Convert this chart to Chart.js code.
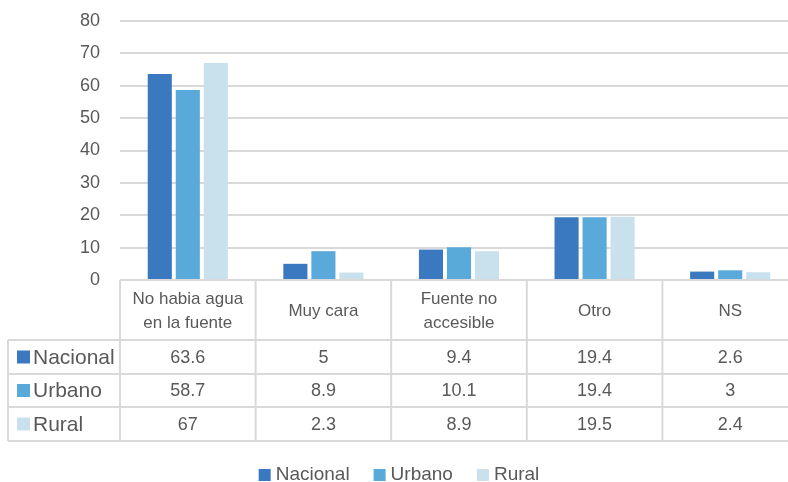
<!DOCTYPE html>
<html>
<head>
<meta charset="utf-8">
<script src="https://cdn.jsdelivr.net/npm/chart.js@4/dist/chart.umd.min.js"></script>
<style>
  html, body { margin: 0; padding: 0; background: #fff; overflow: hidden; }
  #wrap { width: 798px; height: 482px; position: relative; }
</style>
</head>
<body>
<div id="wrap"><canvas id="waterChart"></canvas></div>
<script>
// data
const categories = [['No habia agua', 'en la fuente'], 'Muy cara', ['Fuente no', 'accesible'], 'Otro', 'NS'];
const seriesNames = ['Nacional', 'Urbano', 'Rural'];
const nacional = [63.6, 5, 9.4, 19.4, 2.6];
const urbano = [58.7, 8.9, 10.1, 19.4, 3];
const rural = [67, 2.3, 8.9, 19.5, 2.4];
const yMin = 0, yMax = 80, yStep = 10;

const seriesColors = ['#3a78bf', '#5aa9db', '#c8e1ed'];
const seriesData = [nacional, urbano, rural];
const textColor = '#595959';
const lineColor = '#d9d9d9';
const fontFamily = '"Liberation Sans", Arial, Helvetica, sans-serif';

// draws the data table under the plot and the legend at the bottom
const tableAndLegend = {
  id: 'tableAndLegend',
  afterDraw(chart) {
    const ctx = chart.ctx;
    const area = chart.chartArea;
    const xs = chart.scales.x;
    const n = categories.length;
    const colW = (area.right - area.left) / n;
    const top = area.bottom;
    const rowY = [top, top + 60, top + 94, top + 127, top + 161];
    const tableLeft = 8;

    ctx.save();
    ctx.strokeStyle = lineColor;
    ctx.lineWidth = 2;

    // horizontal lines
    ctx.beginPath();
    ctx.moveTo(area.left, rowY[0]); ctx.lineTo(area.right, rowY[0]);
    for (let r = 1; r < rowY.length; r++) {
      ctx.moveTo(tableLeft, rowY[r]); ctx.lineTo(area.right, rowY[r]);
    }
    // vertical lines
    ctx.moveTo(tableLeft, rowY[1]); ctx.lineTo(tableLeft, rowY[4]);
    for (let i = 0; i <= n; i++) {
      const vx = area.left + i * colW;
      ctx.moveTo(vx, rowY[0]); ctx.lineTo(vx, rowY[4]);
    }
    ctx.stroke();

    ctx.fillStyle = textColor;
    ctx.textAlign = 'center';
    ctx.textBaseline = 'middle';

    // header (category names)
    ctx.font = '17px ' + fontFamily;
    categories.forEach((cat, i) => {
      const cx = xs.getPixelForValue(i);
      const lines = Array.isArray(cat) ? cat : [cat];
      const lh = 24;
      const cy = (rowY[0] + rowY[1]) / 2 + 1;
      lines.forEach((ln, k) => {
        ctx.fillText(ln, cx, cy + (k - (lines.length - 1) / 2) * lh);
      });
    });

    // data rows
    seriesData.forEach((vals, r) => {
      const cy = (rowY[r + 1] + rowY[r + 2]) / 2;
      ctx.fillStyle = seriesColors[r];
      ctx.fillRect(17, cy - 6.5, 13, 13);
      ctx.fillStyle = textColor;
      ctx.textAlign = 'left';
      ctx.font = '21px ' + fontFamily;
      ctx.fillText(seriesNames[r], 33, cy + 1);
      ctx.textAlign = 'center';
      ctx.font = '18px ' + fontFamily;
      vals.forEach((v, i) => {
        ctx.fillText(String(v), xs.getPixelForValue(i), cy + 1);
      });
    });

    // legend
    ctx.font = '19px ' + fontFamily;
    ctx.textAlign = 'left';
    const box = 12, gap = 5, spacing = 24;
    const widths = seriesNames.map(s => box + gap + ctx.measureText(s).width);
    const total = widths.reduce((a, b) => a + b, 0) + spacing * (seriesNames.length - 1);
    let lx = area.right / 2 - total / 2;
    const ly = 475;
    seriesNames.forEach((s, i) => {
      ctx.fillStyle = seriesColors[i];
      ctx.fillRect(lx, ly - 6, box, box);
      ctx.fillStyle = textColor;
      ctx.fillText(s, lx + box + gap, ly);
      lx += widths[i] + spacing;
    });
    ctx.restore();
  }
};

const ctx = document.getElementById('waterChart').getContext('2d');
const waterChart = new Chart(ctx, {
  type: 'bar',
  data: {
    labels: categories,
    datasets: seriesNames.map((name, i) => ({
      label: name,
      data: seriesData[i],
      backgroundColor: seriesColors[i],
      borderWidth: 0,
      categoryPercentage: 0.62,
      barPercentage: 0.86
    }))
  },
  options: {
    responsive: true,
    maintainAspectRatio: false,
    animation: false,
    layout: { padding: { top: 21, right: 0, bottom: 202, left: 0 } },
    plugins: {
      legend: { display: false },
      tooltip: { enabled: false }
    },
    scales: {
      x: { display: false },
      y: {
        min: yMin,
        max: yMax,
        ticks: {
          stepSize: yStep,
          padding: 20,
          color: textColor,
          font: { size: 18, family: fontFamily }
        },
        grid: { color: lineColor, lineWidth: 2, drawTicks: false },
        border: { display: false },
        afterFit(scale) {
          scale.width = 120;
          scale.paddingTop = 0;
          scale.paddingBottom = 0;
        }
      }
    }
  },
  plugins: [tableAndLegend]
});
</script>
</body>
</html>
